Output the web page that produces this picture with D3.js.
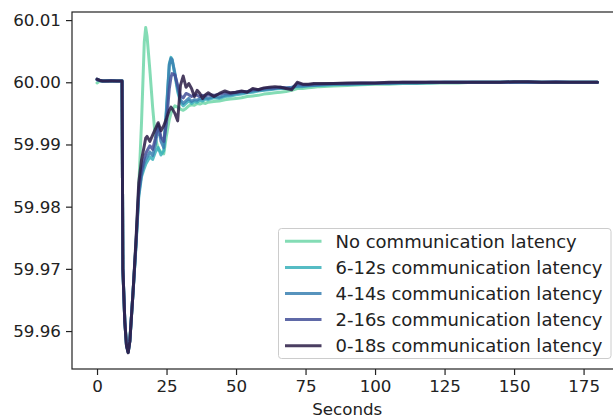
<!DOCTYPE html>
<html>
<head>
<meta charset="utf-8">
<script src="https://cdn.jsdelivr.net/npm/d3@7"></script>
<style>
  html, body { margin: 0; padding: 0; background: #fff; }
  svg { display: block; font-family: "DejaVu Sans", sans-serif; }
</style>
</head>
<body>
<svg id="chart" width="613" height="418"></svg>
<script>
// Sample times (seconds); denser around the disturbance
const times = [0,1,2,3,4,5,6,7,8,9,9.3,10,10.6,11.2,11.8,12.4,13,
  14,15,16,17,17.5,18,19,20,21,22,23,24,25,26,26.6,27,28,29,30,31,32,33,34,35,36,37,38,39,40,
  42,44,46,48,50,52,54,56,58,60,62,64,66,68,70,72,74,76,78,80,
  85,90,95,100,105,110,115,120,125,130,135,140,145,150,155,160,165,170,175,180];

const seriesNames = [
  "No communication latency",
  "6-12s communication latency",
  "4-14s communication latency",
  "2-16s communication latency",
  "0-18s communication latency"
];

// Frequency (Hz) for each scenario
const noLatency = [59.9999,60.0002,60.0002,60.0002,60.0002,60.0002,60.0002,60.0002,60.0002,60.0002,59.9700,59.9615,59.9578,59.9567,59.9585,59.9625,59.9665,
  59.9740,59.9830,59.9935,60.0065,60.0088,60.0074,60.0020,59.9960,59.9910,59.9893,59.9888,59.9885,59.9915,59.9940,59.9950,59.9955,59.9962,59.9960,59.9957,59.9955,59.9958,59.9962,59.9964,59.9963,59.9966,59.9965,59.9967,59.9966,59.9968,
  59.9969,59.9970,59.9972,59.9973,59.9974,59.9975,59.9977,59.9978,59.9979,59.9981,59.9982,59.9983,59.9984,59.9985,59.9987,59.9990,59.9990,59.9991,59.9992,59.9993,
  59.9994,59.9995,59.9996,59.9997,59.9997,59.9998,59.9998,59.9999,59.9999,59.9999,60.0000,60.0000,60.0000,60.0000,60.0000,60.0000,60.0000,60.0000,60.0000,60.0000];

const lat6to12 = [60.0004,60.0003,60.0002,60.0002,60.0003,60.0002,60.0002,60.0002,60.0002,60.0002,59.9700,59.9615,59.9577,59.9566,59.9584,59.9625,59.9665,
  59.9735,59.9815,59.9848,59.9862,59.9868,59.9872,59.9880,59.9876,59.9888,59.9895,59.9883,59.9890,59.9960,60.0030,60.0040,60.0036,60.0012,59.9985,59.9968,59.9962,59.9966,59.9970,59.9966,59.9969,59.9968,59.9971,59.9970,59.9973,59.9972,
  59.9975,59.9974,59.9977,59.9978,59.9980,59.9981,59.9983,59.9984,59.9986,59.9987,59.9988,59.9989,59.9990,59.9990,59.9991,59.9993,59.9993,59.9994,59.9995,59.9995,
  59.9996,59.9997,59.9997,59.9998,59.9998,59.9999,59.9999,59.9999,60.0000,60.0000,60.0000,60.0000,60.0000,60.0001,60.0000,60.0000,60.0000,60.0000,60.0000,60.0000];

const lat4to14 = [60.0005,60.0003,60.0002,60.0002,60.0002,60.0002,60.0003,60.0002,60.0002,60.0002,59.9700,59.9615,59.9577,59.9566,59.9584,59.9625,59.9665,
  59.9738,59.9820,59.9852,59.9870,59.9876,59.9880,59.9888,59.9882,59.9900,59.9930,59.9905,59.9895,59.9955,60.0028,60.0038,60.0037,60.0015,59.9990,59.9972,59.9966,59.9970,59.9974,59.9969,59.9972,59.9971,59.9974,59.9973,59.9975,59.9974,
  59.9977,59.9976,59.9979,59.9980,59.9982,59.9983,59.9984,59.9986,59.9987,59.9988,59.9989,59.9990,59.9991,59.9991,59.9992,59.9994,59.9994,59.9995,59.9995,59.9996,
  59.9997,59.9997,59.9998,59.9998,59.9999,59.9999,59.9999,60.0000,60.0000,60.0000,60.0000,60.0000,60.0000,60.0000,60.0001,60.0000,60.0000,60.0000,60.0000,60.0000];

const lat2to16 = [60.0004,60.0003,60.0002,60.0002,60.0002,60.0003,60.0002,60.0002,60.0002,60.0002,59.9700,59.9616,59.9577,59.9566,59.9584,59.9625,59.9665,
  59.9740,59.9825,59.9858,59.9878,59.9885,59.9890,59.9898,59.9892,59.9910,59.9932,59.9912,59.9905,59.9935,59.9990,60.0008,60.0014,60.0012,59.9995,59.9978,59.9975,59.9982,59.9980,59.9977,59.9980,59.9979,59.9977,59.9979,59.9978,59.9980,
  59.9979,59.9981,59.9983,59.9982,59.9984,59.9985,59.9985,59.9988,59.9988,59.9990,59.9991,59.9991,59.9992,59.9991,59.9990,59.9998,59.9996,59.9996,59.9997,59.9997,
  59.9998,59.9998,59.9999,59.9999,59.9999,60.0000,60.0000,60.0000,60.0000,60.0000,60.0000,60.0000,60.0000,60.0000,60.0000,60.0000,60.0001,60.0000,60.0000,60.0000];

const lat0to18 = [60.0005,60.0003,60.0002,60.0002,60.0002,60.0002,60.0002,60.0002,60.0002,60.0002,59.9700,59.9614,59.9576,59.9565,59.9583,59.9624,59.9666,
  59.9745,59.9838,59.9875,59.9898,59.9910,59.9913,59.9905,59.9915,59.9925,59.9935,59.9922,59.9930,59.9942,59.9955,59.9960,59.9958,59.9950,59.9938,59.9995,60.0010,59.9992,59.9998,59.9990,59.9977,59.9987,59.9982,59.9974,59.9980,59.9983,
  59.9977,59.9982,59.9986,59.9983,59.9984,59.9986,59.9984,59.9990,59.9988,59.9991,59.9992,59.9993,59.9992,59.9990,59.9988,60.0000,59.9997,59.9997,59.9998,59.9998,
  59.9998,59.9999,59.9999,59.9999,60.0000,60.0000,60.0000,60.0000,60.0000,60.0000,60.0000,60.0000,60.0000,60.0001,60.0001,60.0000,60.0000,60.0000,60.0000,60.0000];

const seriesValues = [noLatency, lat6to12, lat4to14, lat2to16, lat0to18];
const colors = ["#6fd6a8", "#38b0ba", "#3a80b2", "#434f98", "#2a1c45"];

const xTicks = [0, 25, 50, 75, 100, 125, 150, 175];
const yTicks = [59.96, 59.97, 59.98, 59.99, 60.00, 60.01];

const svg = d3.select("#chart");
const plot = { left: 72, top: 12, right: 622.5, bottom: 369 };

const x = d3.scaleLinear().domain([-9, 189]).range([plot.left, plot.right]);
const y = d3.scaleLinear().domain([59.9539, 60.0113]).range([plot.bottom, plot.top]);

svg.append("rect").attr("width", 613).attr("height", 418).attr("fill", "#fff");

svg.append("clipPath").attr("id", "plotclip")
  .append("rect")
  .attr("x", plot.left).attr("y", plot.top)
  .attr("width", plot.right - plot.left).attr("height", plot.bottom - plot.top);

// Frequency traces, lightest first so the darker ones sit on top
const line = d3.line()
  .x((d, i) => x(times[i]))
  .y(d => y(d));

const lines = svg.append("g").attr("clip-path", "url(#plotclip)");
seriesValues.forEach((vals, k) => {
  lines.append("path")
    .datum(vals)
    .attr("fill", "none")
    .attr("stroke", colors[k])
    .attr("stroke-opacity", 0.85)
    .attr("stroke-width", 3)
    .attr("stroke-linejoin", "round")
    .attr("stroke-linecap", "round")
    .attr("d", line);
});

// Axes
const xAxis = d3.axisBottom(x).tickValues(xTicks).tickSize(6).tickPadding(5).tickFormat(d3.format("d"));
const yAxis = d3.axisLeft(y).tickValues(yTicks).tickSize(6).tickPadding(5).tickFormat(d3.format(".2f"));

const gx = svg.append("g").attr("transform", `translate(0,${plot.bottom})`).call(xAxis);
const gy = svg.append("g").attr("transform", `translate(${plot.left},0)`).call(yAxis);
[gx, gy].forEach(g => {
  g.select(".domain").remove();
  g.selectAll(".tick line").attr("stroke", "#222").attr("stroke-width", 1.2);
  g.selectAll(".tick text").attr("fill", "#222").style("font-size", "16.7px").style("font-family", "DejaVu Sans");
});

// Frame
svg.append("rect")
  .attr("x", plot.left).attr("y", plot.top)
  .attr("width", plot.right - plot.left).attr("height", plot.bottom - plot.top)
  .attr("fill", "none").attr("stroke", "#222").attr("stroke-width", 1.2);

// Axis title
svg.append("text")
  .attr("x", (plot.left + plot.right) / 2).attr("y", 415)
  .attr("text-anchor", "middle")
  .attr("fill", "#222")
  .style("font-size", "16.7px")
  .text("Seconds");

// Legend
const legend = svg.append("g").attr("transform", "translate(278.5,228.5)");
legend.append("rect")
  .attr("width", 332.5).attr("height", 130)
  .attr("rx", 3).attr("ry", 3)
  .attr("fill", "#fff").attr("fill-opacity", 0.8)
  .attr("stroke", "#cccccc").attr("stroke-width", 1);
seriesNames.forEach((name, k) => {
  const cy = 12.8 + k * 26.1;
  legend.append("line")
    .attr("x1", 6.5).attr("x2", 43).attr("y1", cy).attr("y2", cy)
    .attr("stroke", colors[k]).attr("stroke-opacity", 0.85).attr("stroke-width", 3);
  legend.append("text")
    .attr("x", 57).attr("y", cy).attr("dy", "0.36em")
    .attr("fill", "#222")
    .style("font-size", "18px")
    .text(name);
});
</script>
</body>
</html>
